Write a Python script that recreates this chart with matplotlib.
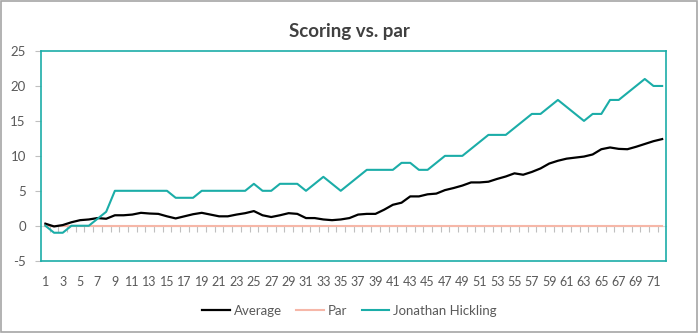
import matplotlib
matplotlib.use("Agg")
import matplotlib.pyplot as plt
from matplotlib.patches import Rectangle
import numpy as np

plt.rcParams['font.family'] = ['Lato', 'DejaVu Sans']

holes = list(range(1, 73))

average = [0.3, -0.1, 0.1, 0.5, 0.8, 0.9, 1.1, 1.0, 1.5, 1.5,
           1.6, 1.85, 1.75, 1.7, 1.35, 1.05, 1.35, 1.65, 1.85, 1.6,
           1.35, 1.35, 1.6, 1.8, 2.1, 1.5, 1.25, 1.5, 1.8, 1.7,
           1.1, 1.1, 0.9, 0.8, 0.9, 1.1, 1.6, 1.7, 1.7, 2.3,
           3.0, 3.3, 4.2, 4.2, 4.5, 4.6, 5.1, 5.4, 5.75, 6.2,
           6.2, 6.3, 6.7, 7.05, 7.5, 7.3, 7.7, 8.2, 8.9, 9.3,
           9.6, 9.75, 9.9, 10.2, 10.95, 11.2, 11.0, 10.95, 11.3, 11.7,
           12.1, 12.4]

par = [0] * 72

hickling = [0, -1, -1, 0, 0, 0, 1, 2, 5, 5,
            5, 5, 5, 5, 5, 4, 4, 4, 5, 5,
            5, 5, 5, 5, 6, 5, 5, 6, 6, 6,
            5, 6, 7, 6, 5, 6, 7, 8, 8, 8,
            8, 9, 9, 8, 8, 9, 10, 10, 10, 11,
            12, 13, 13, 13, 14, 15, 16, 16, 17, 18,
            17, 16, 15, 16, 16, 18, 18, 19, 20, 21,
            20, 20]

y_ticks = [-5, 0, 5, 10, 15, 20, 25]

teal = '#1BADA8'
par_color = '#F6B7A8'
grey_txt = '#595959'

fig = plt.figure(figsize=(6.99, 3.33), dpi=100)
ax = fig.add_axes([0.0587, 0.2171, 0.8948, 0.6297])

ax.plot(holes, par, color=par_color, lw=1.5, label='Par', zorder=3)
ax.plot(holes, average, color='black', lw=1.6, label='Average', zorder=4)
ax.plot(holes, hickling, color=teal, lw=1.5, label='Jonathan Hickling', zorder=5)

ax.set_xlim(0.5, 72.5)
ax.set_ylim(-5, 25)
ax.set_yticks(y_ticks)
ax.set_yticklabels([str(v) for v in y_ticks])
ax.set_xticks(holes[::2])
ax.set_xticklabels([str(h) for h in holes[::2]])

for s in ax.spines.values():
    s.set_color(teal)
    s.set_linewidth(1.2)

ax.tick_params(axis='x', length=0, pad=11, labelsize=9, labelcolor=grey_txt)
ax.tick_params(axis='y', length=4, width=0.8, color='#BFBFBF', pad=7,
               labelsize=9.5, labelcolor=grey_txt)

# category axis crossing at zero with boundary ticks
frac0 = (0 - (-5)) / 30.0
sec = ax.secondary_xaxis(frac0)
sec.set_xticks(np.arange(1.5, 72.5, 1.0))
sec.tick_params(axis='x', direction='out', length=4, width=0.8,
                color='#BFBFBF', labelbottom=False, labeltop=False)
sec.spines['bottom'].set_color('#D9D9D9')
sec.spines['bottom'].set_linewidth(0.8)

fig.text(0.5, 0.905, 'Scoring vs. par', ha='center', va='center',
         fontsize=13.5, fontweight='bold', color='#404040')

handles, labels = ax.get_legend_handles_labels()
order = [1, 0, 2]
leg = fig.legend([handles[i] for i in order], [labels[i] for i in order],
                 loc='center', bbox_to_anchor=(0.5, 0.066), ncol=3,
                 frameon=False, fontsize=9.5, handlelength=2.1,
                 columnspacing=1.1, handletextpad=0.3)
for t in leg.get_texts():
    t.set_color(grey_txt)

fig.patches.append(Rectangle((0.001, 0.002), 0.996, 0.995,
                             transform=fig.transFigure, fill=False,
                             edgecolor='#A6A6A6', lw=1.2))

fig.savefig('out.png', dpi=100)
